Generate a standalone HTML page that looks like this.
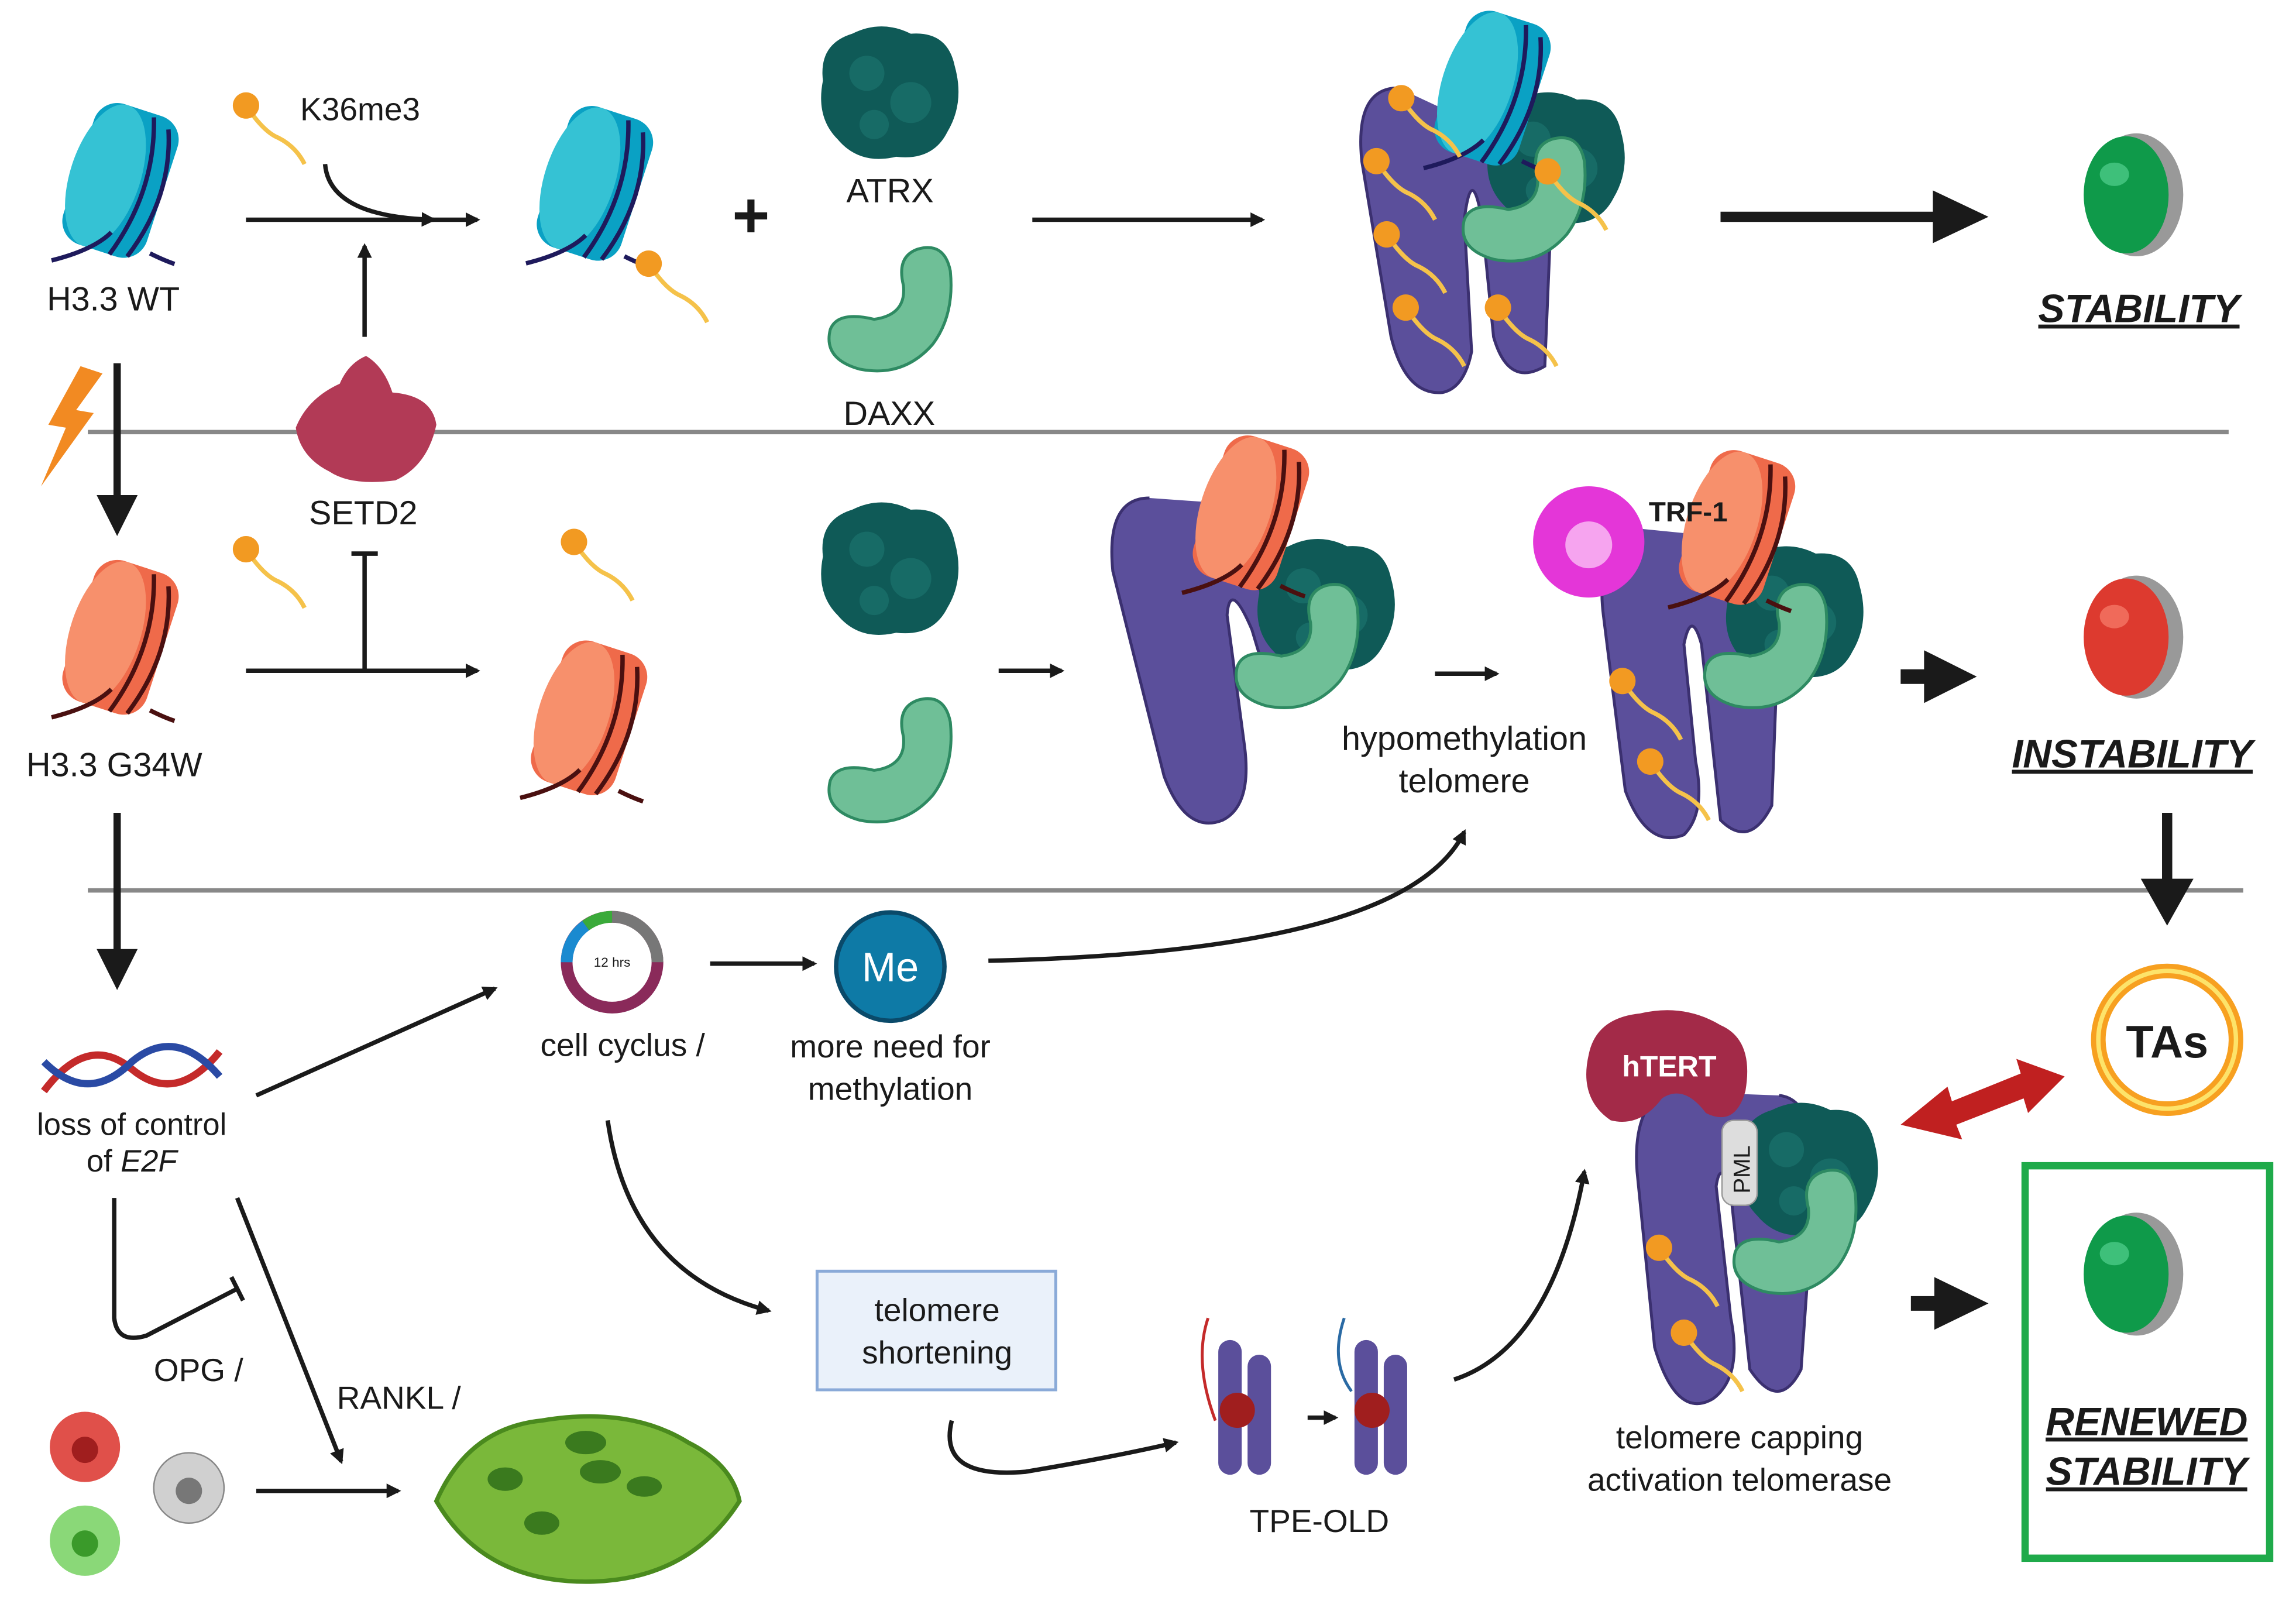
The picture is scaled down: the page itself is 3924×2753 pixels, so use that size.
<!DOCTYPE html>
<html><head><meta charset="utf-8"><style>
html,body{margin:0;padding:0;background:#fff;}
svg{display:block}
text{font-family:"Liberation Sans",sans-serif;fill:#1a1a1a}
</style></head><body>
<svg width="3924" height="2753" viewBox="0 0 1568 1100" xmlns="http://www.w3.org/2000/svg">
<defs>
<marker id="ah" markerWidth="10" markerHeight="10" refX="8" refY="5" orient="auto" markerUnits="userSpaceOnUse"><path d="M0,0 L10,5 L0,10 z" fill="#1a1a1a"/></marker>
<g id="nucB"><g transform="scale(1.2)">
 <g transform="rotate(18)">
  <rect x="-30" y="-42" width="50" height="84" rx="14" fill="#0aa1c4"/>
  <ellipse cx="-14" cy="0" rx="20" ry="42" fill="#35c2d4"/>
  <path d="M2,-40 Q16,0 2,42 M12,-36 Q26,0 12,40" stroke="#1e1a5c" stroke-width="2.5" fill="none"/>
 </g>
 <path d="M-44,44 Q-20,38 -10,28 M12,40 Q20,44 26,46" stroke="#1e1a5c" stroke-width="2.5" fill="none"/>
</g></g>
<g id="nucO"><g transform="scale(1.2)">
 <g transform="rotate(18)">
  <rect x="-30" y="-42" width="50" height="84" rx="14" fill="#ef6a4a"/>
  <ellipse cx="-14" cy="0" rx="20" ry="42" fill="#f7906c"/>
  <path d="M2,-40 Q16,0 2,42 M12,-36 Q26,0 12,40" stroke="#4a1010" stroke-width="2.5" fill="none"/>
 </g>
 <path d="M-44,44 Q-20,38 -10,28 M12,40 Q20,44 26,46" stroke="#4a1010" stroke-width="2.5" fill="none"/>
</g></g>
<g id="tail">
 <path d="M0,0 Q12,18 22,22 Q34,28 40,40" stroke="#f5c24a" stroke-width="3" fill="none"/>
 <circle cx="0" cy="0" r="9" fill="#f29a22"/>
</g>
<g id="atrx">
 <path d="M-45,-10 Q-48,-35 -25,-42 Q-5,-52 15,-42 Q40,-44 45,-20 Q52,5 40,25 Q30,45 5,42 Q-20,48 -35,30 Q-50,15 -45,-10z" fill="#0f5a57"/>
 <circle cx="-15" cy="-15" r="12" fill="#176b66"/><circle cx="15" cy="5" r="14" fill="#176b66"/><circle cx="-10" cy="20" r="10" fill="#176b66"/>
</g>
<g id="daxx">
 <path d="M-40,15 Q-45,35 -20,42 Q10,48 30,25 Q45,5 42,-25 Q38,-45 20,-40 Q5,-35 10,-15 Q12,5 -10,8 Q-35,2 -40,15z" fill="#6fbf97" stroke="#2e8a62" stroke-width="2"/>
</g>
<g id="btnG"><ellipse cx="7" cy="0" rx="32" ry="42" fill="#999"/><ellipse cx="0" cy="0" rx="29" ry="40" fill="#0f9a4a"/><ellipse cx="-8" cy="-14" rx="10" ry="8" fill="#3ec07a"/></g>
<g id="btnR"><ellipse cx="7" cy="0" rx="32" ry="42" fill="#999"/><ellipse cx="0" cy="0" rx="29" ry="40" fill="#dd3a2f"/><ellipse cx="-8" cy="-14" rx="10" ry="8" fill="#f06a5a"/></g>
</defs>

<line x1="60" y1="295" x2="1522" y2="295" stroke="#888" stroke-width="3"/>
<line x1="60" y1="608" x2="1532" y2="608" stroke="#888" stroke-width="3"/>

<!-- ROW 1 -->
<use href="#nucB" x="88" y="125"/>
<text x="32" y="212" font-size="23">H3.3 WT</text>
<use href="#tail" x="168" y="72"/>
<text x="205" y="82" font-size="22">K36me3</text>
<line x1="168" y1="150" x2="326" y2="150" stroke="#1a1a1a" stroke-width="3" marker-end="url(#ah)"/>
<path d="M222,112 Q225,148 296,150" stroke="#1a1a1a" stroke-width="3" fill="none" marker-end="url(#ah)"/>
<line x1="249" y1="230" x2="249" y2="168" stroke="#1a1a1a" stroke-width="3" marker-end="url(#ah)"/>
<use href="#nucB" x="412" y="127"/>
<use href="#tail" x="443" y="180"/>
<text x="500" y="162" font-size="44" font-weight="bold">+</text>
<use href="#atrx" x="607" y="65"/>
<text x="578" y="138" font-size="23">ATRX</text>
<use href="#daxx" x="607" y="210"/>
<text x="576" y="290" font-size="23">DAXX</text>
<line x1="705" y1="150" x2="862" y2="150" stroke="#1a1a1a" stroke-width="3" marker-end="url(#ah)"/>
<path d="M955,60 Q925,60 930,110 L950,230 Q960,270 985,268 Q1000,265 1005,240 L1000,150 Q1005,110 1012,150 L1020,230 Q1030,265 1055,250 L1060,130 Q1055,90 1030,95" fill="#5b4f9b" stroke="#3b3070" stroke-width="2"/>
<use href="#atrx" x="1062" y="110"/>
<use href="#daxx" x="1040" y="135"/>
<use href="#nucB" x="1025" y="62"/>
<use href="#tail" x="957" y="67"/><use href="#tail" x="940" y="110"/><use href="#tail" x="947" y="160"/><use href="#tail" x="960" y="210"/><use href="#tail" x="1023" y="210"/><use href="#tail" x="1057" y="117"/>
<line x1="1175" y1="148" x2="1325" y2="148" stroke="#1a1a1a" stroke-width="7"/>
<path d="M1320,130 L1358,148 L1320,166 z" fill="#1a1a1a"/>
<use href="#btnG" x="1452" y="133"/>
<text x="1392" y="220" font-size="27" font-weight="bold" font-style="italic" text-decoration="underline">STABILITY</text>

<path d="M55,250 L70,255 L52,280 L64,282 L28,332 L45,292 L33,290 z" fill="#f28a22"/>
<line x1="80" y1="248" x2="80" y2="340" stroke="#1a1a1a" stroke-width="5"/>
<path d="M66,338 L94,338 L80,366 z" fill="#1a1a1a"/>
<path d="M250,243 Q262,250 268,268 Q295,270 298,290 Q292,318 270,328 Q240,332 225,322 Q205,312 202,292 Q210,272 232,262 Q238,248 250,243z" fill="#b23a56"/>
<text x="211" y="358" font-size="23">SETD2</text>

<!-- ROW 2 -->
<use href="#nucO" x="88" y="437"/>
<text x="18" y="530" font-size="23">H3.3 G34W</text>
<use href="#tail" x="168" y="375"/>
<line x1="168" y1="458" x2="326" y2="458" stroke="#1a1a1a" stroke-width="3" marker-end="url(#ah)"/>
<line x1="249" y1="378" x2="249" y2="458" stroke="#1a1a1a" stroke-width="3"/>
<line x1="240" y1="378" x2="258" y2="378" stroke="#1a1a1a" stroke-width="3"/>
<use href="#tail" x="392" y="370"/>
<use href="#nucO" x="408" y="492"/>
<use href="#atrx" x="607" y="390"/>
<use href="#daxx" x="607" y="518"/>
<line x1="682" y1="458" x2="725" y2="458" stroke="#1a1a1a" stroke-width="3" marker-end="url(#ah)"/>
<path d="M785,340 Q755,340 760,390 L795,530 Q810,570 835,560 Q855,550 850,510 L838,420 Q840,395 855,430 L870,480 L880,400 Q878,350 855,345" fill="#5b4f9b" stroke="#3b3070" stroke-width="2"/>
<use href="#atrx" x="905" y="415"/>
<use href="#daxx" x="885" y="440"/>
<use href="#nucO" x="860" y="352"/>
<line x1="980" y1="460" x2="1022" y2="460" stroke="#1a1a1a" stroke-width="3" marker-end="url(#ah)"/>
<text x="1000" y="512" font-size="23" text-anchor="middle">hypomethylation</text>
<text x="1000" y="541" font-size="23" text-anchor="middle">telomere</text>
<path d="M1110,360 Q1090,380 1095,420 L1110,540 Q1125,580 1150,570 Q1165,555 1158,520 L1150,440 Q1155,415 1162,440 L1175,560 Q1195,580 1210,550 L1215,420 Q1212,370 1190,368" fill="#5b4f9b" stroke="#3b3070" stroke-width="2"/>
<use href="#atrx" x="1225" y="420"/>
<use href="#daxx" x="1205" y="440"/>
<circle cx="1085" cy="370" r="38" fill="#e436d8"/><circle cx="1085" cy="372" r="16" fill="#f6a4ef"/>
<use href="#nucO" x="1192" y="362"/>
<text x="1126" y="356" font-size="19" font-weight="bold">TRF-1</text>
<use href="#tail" x="1108" y="465"/><use href="#tail" x="1127" y="520"/>
<line x1="1298" y1="462" x2="1318" y2="462" stroke="#1a1a1a" stroke-width="10"/>
<path d="M1314,444 L1350,462 L1314,480 z" fill="#1a1a1a"/>
<use href="#btnR" x="1452" y="435"/>
<text x="1374" y="524" font-size="27" font-weight="bold" font-style="italic" text-decoration="underline">INSTABILITY</text>
<line x1="1480" y1="555" x2="1480" y2="610" stroke="#1a1a1a" stroke-width="7"/>
<path d="M1462,600 L1498,600 L1480,632 z" fill="#1a1a1a"/>

<line x1="80" y1="555" x2="80" y2="650" stroke="#1a1a1a" stroke-width="5"/>
<path d="M66,648 L94,648 L80,676 z" fill="#1a1a1a"/>

<!-- ROW 3 -->
<path d="M30,745 Q60,705 90,730 Q120,755 150,718" stroke="#c42a2a" stroke-width="5" fill="none"/>
<path d="M30,725 Q60,755 90,725 Q120,700 150,735" stroke="#2a4aa4" stroke-width="5" fill="none"/>
<text x="90" y="775" font-size="21" text-anchor="middle">loss of control</text>
<text x="90" y="800" font-size="21" text-anchor="middle">of <tspan font-style="italic">E2F</tspan></text>
<line x1="175" y1="748" x2="338" y2="675" stroke="#1a1a1a" stroke-width="3" marker-end="url(#ah)"/>
<circle cx="418" cy="657" r="31" fill="none" stroke="#8a2a5a" stroke-width="8"/>
<path d="M418,626 A31,31 0 0 1 449,657" stroke="#777" stroke-width="8" fill="none"/>
<path d="M387,657 A31,31 0 0 1 400,632" stroke="#1a8ad0" stroke-width="8" fill="none"/>
<path d="M400,632 A31,31 0 0 1 418,626" stroke="#3aaa3a" stroke-width="8" fill="none"/>
<text x="418" y="660" font-size="9" text-anchor="middle">12 hrs</text>
<text x="369" y="721" font-size="22">cell cyclus /</text>
<line x1="485" y1="658" x2="556" y2="658" stroke="#1a1a1a" stroke-width="3" marker-end="url(#ah)"/>
<circle cx="608" cy="660" r="37" fill="#0e7aa6" stroke="#0a4a6a" stroke-width="3"/>
<text x="608" y="670" font-size="28" text-anchor="middle" style="fill:#fff">Me</text>
<text x="608" y="722" font-size="22" text-anchor="middle">more need for</text>
<text x="608" y="751" font-size="22" text-anchor="middle">methylation</text>
<path d="M675,656 Q960,650 1000,568" stroke="#1a1a1a" stroke-width="3" fill="none" marker-end="url(#ah)"/>
<path d="M415,765 Q430,870 525,895" stroke="#1a1a1a" stroke-width="3" fill="none" marker-end="url(#ah)"/>
<rect x="558" y="868" width="163" height="81" fill="#eaf1fa" stroke="#8aaad8" stroke-width="2"/>
<text x="640" y="902" font-size="22" text-anchor="middle">telomere</text>
<text x="640" y="931" font-size="22" text-anchor="middle">shortening</text>
<path d="M650,970 Q640,1010 700,1005 Q760,995 803,985" stroke="#1a1a1a" stroke-width="3" fill="none" marker-end="url(#ah)"/>
<rect x="832" y="915" width="16" height="92" rx="8" fill="#5b4f9b"/><rect x="852" y="925" width="16" height="82" rx="8" fill="#5b4f9b"/><circle cx="845" cy="963" r="12" fill="#a01e1e"/>
<rect x="925" y="915" width="16" height="92" rx="8" fill="#5b4f9b"/><rect x="945" y="925" width="16" height="82" rx="8" fill="#5b4f9b"/><circle cx="937" cy="963" r="12" fill="#a01e1e"/>
<path d="M825,900 Q815,930 830,970" stroke="#c42a2a" stroke-width="2" fill="none"/>
<path d="M918,900 Q908,930 923,950" stroke="#2a6aa4" stroke-width="2" fill="none"/>
<line x1="893" y1="968" x2="912" y2="968" stroke="#1a1a1a" stroke-width="3" marker-end="url(#ah)"/>
<text x="901" y="1046" font-size="22" text-anchor="middle">TPE-OLD</text>
<path d="M993,942 Q1060,920 1082,800" stroke="#1a1a1a" stroke-width="3" fill="none" marker-end="url(#ah)"/>
<path d="M1135,745 Q1115,760 1118,800 L1130,920 Q1145,970 1170,955 Q1190,940 1182,900 L1172,810 Q1175,790 1182,815 L1195,935 Q1215,965 1230,935 L1240,795 Q1237,750 1215,748" fill="#5b4f9b" stroke="#3b3070" stroke-width="2"/>
<use href="#atrx" x="1235" y="800"/>
<use href="#daxx" x="1225" y="840"/>
<path d="M1085,720 Q1090,695 1120,692 Q1150,685 1175,700 Q1198,710 1192,745 Q1185,770 1165,760 Q1150,740 1135,750 Q1120,770 1100,765 Q1078,750 1085,720z" fill="#a32a48"/>
<text x="1140" y="735" font-size="20" font-weight="bold" text-anchor="middle" style="fill:#fff">hTERT</text>
<rect x="1176" y="765" width="24" height="58" rx="8" fill="#ddd" stroke="#999"/>
<text x="1195" y="815" font-size="16" transform="rotate(-90 1195 815)">PML</text>
<use href="#tail" x="1133" y="852"/><use href="#tail" x="1150" y="910"/>
<text x="1188" y="989" font-size="22" text-anchor="middle">telomere capping</text>
<text x="1188" y="1018" font-size="22" text-anchor="middle">activation telomerase</text>
<line x1="1305" y1="890" x2="1325" y2="890" stroke="#1a1a1a" stroke-width="10"/>
<path d="M1321,872 L1358,890 L1321,908 z" fill="#1a1a1a"/>
<path d="M1298,768 L1330,742 L1333,752 L1380,733 L1377,723 L1410,735 L1385,760 L1382,750 L1336,768 L1340,778 z" fill="#c02020"/>
<circle cx="1480" cy="710" r="47" fill="none" stroke="#f7a020" stroke-width="10"/>
<circle cx="1480" cy="710" r="47" fill="none" stroke="#fde36a" stroke-width="3"/>
<text x="1480" y="722" font-size="31" font-weight="bold" text-anchor="middle">TAs</text>
<rect x="1383" y="796" width="167" height="268" fill="none" stroke="#1faa4a" stroke-width="5"/>
<use href="#btnG" x="1452" y="870"/>
<text x="1466" y="980" font-size="27" font-weight="bold" font-style="italic" text-decoration="underline" text-anchor="middle">RENEWED</text>
<text x="1466" y="1014" font-size="27" font-weight="bold" font-style="italic" text-decoration="underline" text-anchor="middle">STABILITY</text>

<path d="M78,818 L78,900 Q80,918 100,912 L162,880" stroke="#1a1a1a" stroke-width="3" fill="none"/>
<line x1="158" y1="872" x2="166" y2="888" stroke="#1a1a1a" stroke-width="3"/>
<text x="105" y="943" font-size="22">OPG /</text>
<line x1="162" y1="818" x2="233" y2="998" stroke="#1a1a1a" stroke-width="3" marker-end="url(#ah)"/>
<text x="230" y="962" font-size="22">RANKL /</text>
<circle cx="58" cy="988" r="24" fill="#e0504a"/><circle cx="58" cy="990" r="9" fill="#a01e1e"/>
<circle cx="129" cy="1016" r="24" fill="#d0d0d0" stroke="#888"/><circle cx="129" cy="1018" r="9" fill="#777"/>
<circle cx="58" cy="1052" r="24" fill="#8ad878"/><circle cx="58" cy="1054" r="9" fill="#3a9a2a"/>
<line x1="175" y1="1018" x2="272" y2="1018" stroke="#1a1a1a" stroke-width="3" marker-end="url(#ah)"/>
<path d="M298,1025 Q320,975 370,970 Q430,960 470,985 Q500,1000 505,1025 Q470,1080 400,1080 Q330,1080 298,1025z" fill="#7ab83a" stroke="#4a8a1e" stroke-width="3"/>
<ellipse cx="345" cy="1010" rx="12" ry="8" fill="#3a7a1e"/><ellipse cx="400" cy="985" rx="14" ry="8" fill="#3a7a1e"/><ellipse cx="410" cy="1005" rx="14" ry="8" fill="#3a7a1e"/><ellipse cx="440" cy="1015" rx="12" ry="7" fill="#3a7a1e"/><ellipse cx="370" cy="1040" rx="12" ry="8" fill="#3a7a1e"/>
</svg>
</body></html>
